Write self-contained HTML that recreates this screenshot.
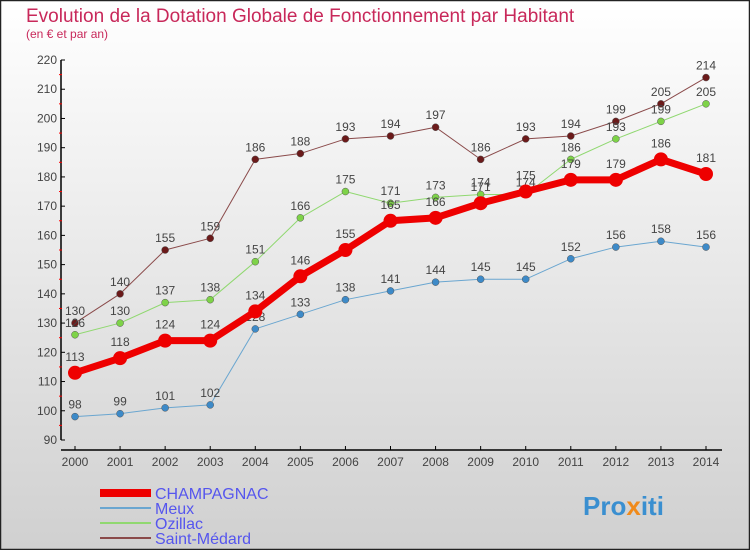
<!DOCTYPE html>
<html><head><meta charset="utf-8"><style>
body{margin:0;}
#c{width:750px;height:550px;position:relative;overflow:hidden;}
svg text{font-family:"Liberation Sans",sans-serif;}
</style></head><body>
<div id="c">
<svg id="s" width="750" height="550" xmlns="http://www.w3.org/2000/svg">
<defs><linearGradient id="bg" x1="0" y1="0" x2="0" y2="1"><stop offset="0" stop-color="#ffffff"/><stop offset="1" stop-color="#d0d0d0"/></linearGradient></defs>
<rect x="0.5" y="0.5" width="749" height="549" fill="url(#bg)" stroke="#222" stroke-width="1.5"/>
<text x="26" y="22" font-size="19" fill="#c8285a">Evolution de la Dotation Globale de Fonctionnement par Habitant</text>
<text x="26" y="38" font-size="12" fill="#c8285a">(en € et par an)</text>
<g id="axes"></g><g id="series"></g><g id="legend"></g>
<text x="583" y="515" font-size="26" font-weight="bold" fill="#3a8fd0">Pro<tspan fill="#f08a1a">x</tspan>iti</text>
</svg></div>
<script>
const years=[2000,2001,2002,2003,2004,2005,2006,2007,2008,2009,2010,2011,2012,2013,2014];
const champagnac=[113,118,124,124,134,146,155,165,166,171,175,179,179,186,181];
const meux=[98,99,101,102,128,133,138,141,144,145,145,152,156,158,156];
const ozillac=[126,130,137,138,151,166,175,171,173,174,174,186,193,199,205];
const stMedard=[130,140,155,159,186,188,193,194,197,186,193,194,199,205,214];
const yTicks=[90,100,110,120,130,140,150,160,170,180,190,200,210,220];
const NS="http://www.w3.org/2000/svg";
const X=i=>75+i*(706-75)/(years.length-1);
const Y=v=>440-(v-90)*380/130;
function mk(t,a,p){const e=document.createElementNS(NS,t);for(const k in a)e.setAttribute(k,a[k]);p.appendChild(e);return e;}
const ax=document.getElementById('axes');
let yl=mk('line',{x1:61,y1:Y(220),x2:61,y2:Y(90),stroke:'#000','stroke-width':1.5},ax);


let xl=mk('line',{x1:61,y1:450,x2:722,y2:450,stroke:'#000','stroke-width':1.5},ax);


yTicks.forEach((v,i)=>{
 mk('line',{x1:61,y1:Y(v),x2:65,y2:Y(v),stroke:'#000'},ax);
 if(i<yTicks.length-1)mk('line',{x1:59,y1:Y(v+5),x2:62,y2:Y(v+5),stroke:'#f00'},ax);
 const t=mk('text',{x:57,y:Y(v)+4,'text-anchor':'end','font-size':12,fill:'#444'},ax);t.textContent=v;
 
 
});
years.forEach((yr,i)=>{
 mk('line',{x1:X(i),y1:446,x2:X(i),y2:450,stroke:'#000'},ax);
 const t=mk('text',{x:X(i),y:466,'text-anchor':'middle','font-size':12,fill:'#444'},ax);t.textContent=yr;
 
 
});
const sg=document.getElementById('series');
const defs=[
 {n:'saint-medard',d:stMedard,c:'#6b1a1a',lc:'#8a4a4a',w:1,r:3.5},
 {n:'ozillac',d:ozillac,c:'#7ed348',lc:'#90d870',w:1,r:3.5},
 {n:'meux',d:meux,c:'#3d8ac8',lc:'#6aa6d0',w:1,r:3.5},
 {n:'champagnac',d:champagnac,c:'#ee0000',lc:'#ee0000',w:7,r:7}
];
defs.forEach(s=>{
 const g=mk('g',{},sg);
 
 
 const pl=mk('polyline',{points:s.d.map((v,i)=>X(i)+','+Y(v)).join(' '),fill:'none',stroke:s.lc,'stroke-width':s.w,'stroke-linejoin':'round'},g);
 
 
 s.d.forEach((v,i)=>{
  const c=mk('circle',{cx:X(i),cy:Y(v),r:s.r,fill:s.c,stroke:s.w>1?'none':'#555','stroke-width':0.5},g);
  
  
  const t=mk('text',{x:X(i),y:Y(v)-(s.w>1?12:8),'text-anchor':'middle','font-size':12,fill:'#444'},g);t.textContent=v;
  
  
 });
});
const lg=document.getElementById('legend');
const le=[['CHAMPAGNAC','#ee0000',8],['Meux','#6aa6d0',2],['Ozillac','#90d870',2],['Saint-Médard','#8a4a4a',2]];
le.forEach((e,i)=>{
 const y=493+i*15;
 const g=mk('g',{},lg);
 
 
 mk('line',{x1:100,y1:y,x2:151,y2:y,stroke:e[1],'stroke-width':e[2]},g);
 const t=mk('text',{x:155,y:y+6,'font-size':16,fill:'#5555ee'},g);t.textContent=e[0];
});
</script>
</body></html>
